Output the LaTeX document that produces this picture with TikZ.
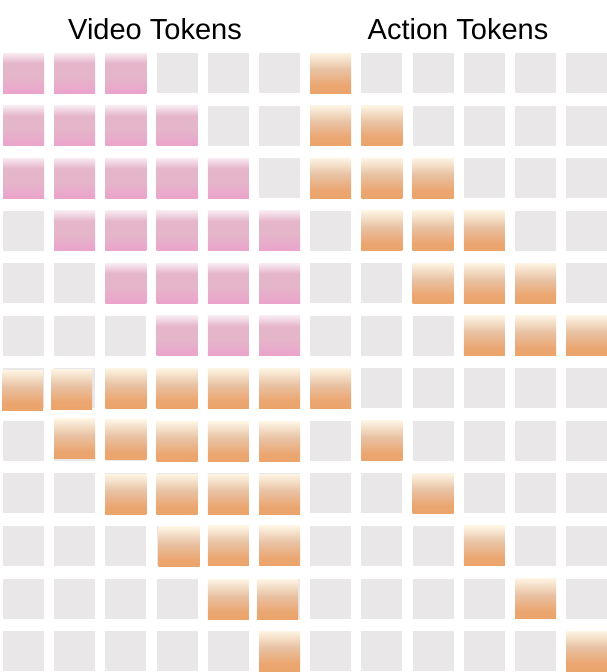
\documentclass[tikz,border=0pt]{standalone}
\usepackage{fontspec}
\setmainfont{Liberation Sans}
\definecolor{graycell}{HTML}{E9E7E8}
\definecolor{pinktop}{HTML}{F8EAF1}
\definecolor{pinkmid}{HTML}{E5B5CA}
\definecolor{pinkbot}{HTML}{EBA3CB}
\definecolor{orgtop}{HTML}{FDF4E2}
\definecolor{orgmid}{HTML}{E9C3A5}
\definecolor{orglow}{HTML}{EBA671}
\definecolor{orgbot}{HTML}{EBA46A}
\pgfdeclareverticalshading{pinkgrad}{100bp}{color(0bp)=(pinkbot); color(25bp)=(pinkbot); color(45bp)=(pinkmid); color(62bp)=(pinkmid); color(75bp)=(pinktop); color(100bp)=(pinktop)}
\pgfdeclareverticalshading{orggrad}{100bp}{color(0bp)=(orgbot); color(25bp)=(orgbot); color(35bp)=(orglow); color(55bp)=(orgmid); color(75bp)=(orgtop); color(100bp)=(orgtop)}
\tikzset{
  cellbase/.style={inner sep=0pt, outer sep=0pt, minimum width=41pt, minimum height=40pt, anchor=north west},
  graybox/.style={cellbase, fill=graycell},
  pinkbox/.style={cellbase, shading=pinkgrad},
  orgbox/.style={cellbase, shading=orggrad},
  title/.style={font=\fontsize{29}{34}\selectfont, text=black, inner sep=0pt}
}
\begin{document}
\begin{tikzpicture}[x=1pt,y=-1pt]
\useasboundingbox (0,0) rectangle (606,672);
\fill[white] (0,0) rectangle (606,672);
\node[title] (tv) at (155,29) {Video Tokens};
\node[title] (ta) at (458,29) {Action Tokens};
% gray background cells
\foreach \r in {1,...,12}{
  \foreach \c in {1,...,12}{
    \node[graybox] (g-\r-\c) at ({3+51.2*(\c-1)},{53+52.55*(\r-1)}) {};
  }
}
% pink cells: row / from / to
\foreach \r/\a/\b in {1/1/3, 2/1/4, 3/1/5, 4/2/6, 5/3/6, 6/4/6}{
  \foreach \c in {\a,...,\b}{
    \node[pinkbox] (p-\r-\c) at ({3+51.2*(\c-1)},{53+52.55*(\r-1)}) {};
  }
}
% orange cells upper right
\foreach \r/\a/\b in {1/7/7, 2/7/8, 3/7/9, 4/8/10, 5/9/11, 6/10/12}{
  \foreach \c in {\a,...,\b}{
    \node[orgbox] (o-\r-\c) at ({3+51.2*(\c-1)},{53+52.55*(\r-1)}) {};
  }
}
% orange cells lower left (with small offsets dx/dy)
\foreach \r/\c/\dx/\dy in {7/1/-1/2, 7/2/-3/1, 7/3/0/0, 7/4/0/0, 7/5/0/0, 7/6/0/0,
  8/2/0/-2, 8/3/0/-1, 8/4/0/1, 8/5/0/1, 8/6/0/1,
  9/3/0/1, 9/4/0/1, 9/5/0/1, 9/6/0/1,
  10/4/2/1, 10/5/0/0, 10/6/0/0,
  11/5/0/1, 11/6/-2/1,
  12/6/0/0}{
  \node[orgbox] (o-\r-\c) at ({3+51.2*(\c-1)+\dx},{53+52.55*(\r-1)+\dy}) {};
}
% orange cells lower right diagonal
\foreach \r/\c in {7/7, 8/8, 9/9, 10/10, 11/11, 12/12}{
  \node[orgbox] (o-\r-\c) at ({3+51.2*(\c-1)},{53+52.55*(\r-1)}) {};
}
\end{tikzpicture}
\end{document}
